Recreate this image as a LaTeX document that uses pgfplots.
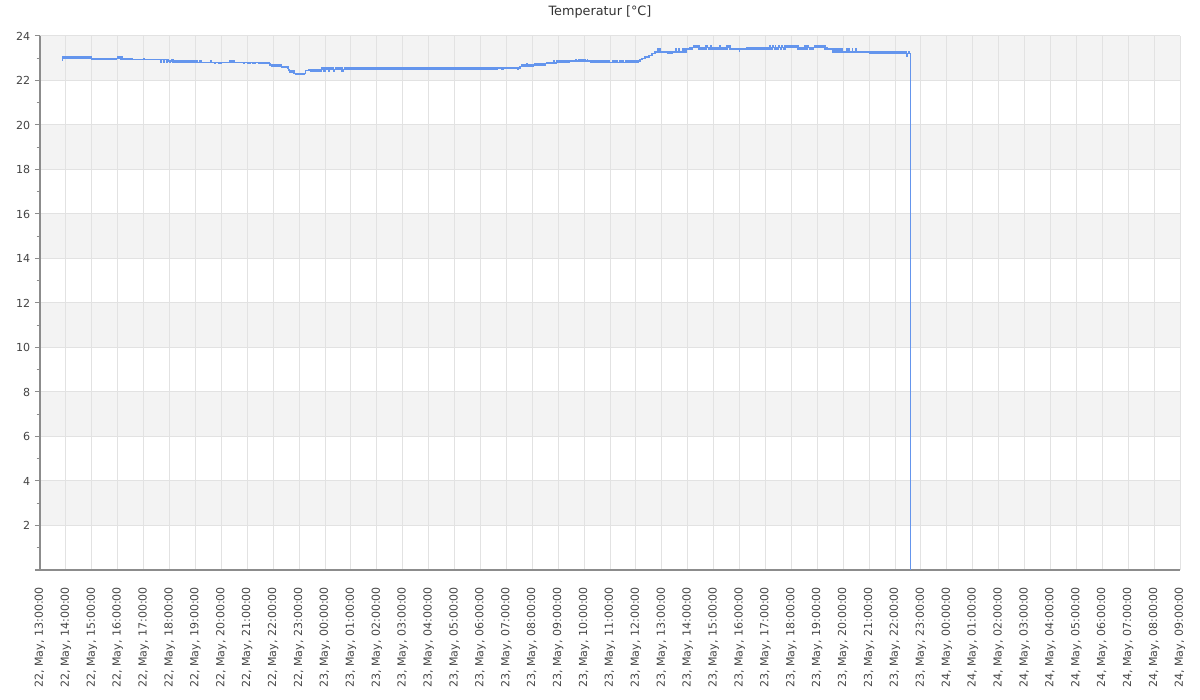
\documentclass[border=0pt]{standalone}
\usepackage{fontspec}
\setmainfont{DejaVu Sans}
\usepackage{pgfplots}
\pgfplotsset{compat=1.18}
\definecolor{tempblue}{HTML}{6495ED}
\definecolor{bandgray}{HTML}{F3F3F3}
\definecolor{gridgray}{HTML}{E2E2E2}
\definecolor{axisgray}{HTML}{8C8C8C}
\definecolor{labelgray}{HTML}{444444}
\definecolor{titlegray}{HTML}{333333}

\begin{document}
\begin{tikzpicture}
\begin{axis}[
    set layers,
    at={(0,0)}, anchor=south west,
    scale only axis, width=855pt, height=400.5pt,
    xmin=13, xmax=57, ymin=0, ymax=24,
    axis x line*=bottom, axis y line*=left,
    axis line style={-, draw=axisgray, line width=0.75pt},
    xmajorgrids, ymajorgrids,
    major grid style={draw=gridgray, line width=0.75pt},
    xtick={13,...,57},
    xtick style={draw=none},
    xticklabels={
        {22, May, 13:00:00},{22, May, 14:00:00},{22, May, 15:00:00},{22, May, 16:00:00},
        {22, May, 17:00:00},{22, May, 18:00:00},{22, May, 19:00:00},{22, May, 20:00:00},
        {22, May, 21:00:00},{22, May, 22:00:00},{22, May, 23:00:00},{23, May, 00:00:00},
        {23, May, 01:00:00},{23, May, 02:00:00},{23, May, 03:00:00},{23, May, 04:00:00},
        {23, May, 05:00:00},{23, May, 06:00:00},{23, May, 07:00:00},{23, May, 08:00:00},
        {23, May, 09:00:00},{23, May, 10:00:00},{23, May, 11:00:00},{23, May, 12:00:00},
        {23, May, 13:00:00},{23, May, 14:00:00},{23, May, 15:00:00},{23, May, 16:00:00},
        {23, May, 17:00:00},{23, May, 18:00:00},{23, May, 19:00:00},{23, May, 20:00:00},
        {23, May, 21:00:00},{23, May, 22:00:00},{23, May, 23:00:00},{24, May, 00:00:00},
        {24, May, 01:00:00},{24, May, 02:00:00},{24, May, 03:00:00},{24, May, 04:00:00},
        {24, May, 05:00:00},{24, May, 06:00:00},{24, May, 07:00:00},{24, May, 08:00:00},
        {24, May, 09:00:00}},
    x tick label style={rotate=90, anchor=east},
    xticklabel shift=5.5pt,
    ytick={0,2,...,24},
    yticklabels={{},2,4,6,8,10,12,14,16,18,20,22,24},
    minor ytick={1,3,...,23},
    ytick style={draw=axisgray, line width=0.75pt},
    tick align=outside,
    major tick length=3.75pt,
    minor tick length=2.5pt,
    tick label style={font=\fontsize{8.3}{10}\selectfont, text=labelgray},
    /pgf/number format/assume math mode=true,
    title={Temperatur [°C]},
    title style={font=\fontsize{9.6}{11}\selectfont, text=titlegray,
        at={(0.5,1)}, anchor=base, yshift=9.5pt, xshift=-7.5pt},
]
% alternating background bands
\addplot[fill=bandgray, draw=none, on layer=axis background] coordinates {(13,22)(57,22)(57,24)(13,24)};
\addplot[fill=bandgray, draw=none, on layer=axis background] coordinates {(13,18)(57,18)(57,20)(13,20)};
\addplot[fill=bandgray, draw=none, on layer=axis background] coordinates {(13,14)(57,14)(57,16)(13,16)};
\addplot[fill=bandgray, draw=none, on layer=axis background] coordinates {(13,10)(57,10)(57,12)(13,12)};
\addplot[fill=bandgray, draw=none, on layer=axis background] coordinates {(13,6)(57,6)(57,8)(13,8)};
\addplot[fill=bandgray, draw=none, on layer=axis background] coordinates {(13,2)(57,2)(57,4)(13,4)};

\addplot[const plot, draw=tempblue, line width=1pt, mark=none] coordinates {
(13.84,23.0)(13.86,22.92)(13.88,23.06)
(13.90,23.0)(13.95,23.06)(14.00,23.0)(14.05,23.06)(14.10,23.0)(14.15,23.06)(14.20,23.0)(14.25,23.06)
(14.30,23.0)(14.35,23.06)(14.40,23.0)(14.45,23.06)(14.50,23.0)(14.55,23.06)(14.60,23.0)(14.65,23.06)
(14.70,23.0)(14.75,23.06)(14.80,23.0)(14.85,23.06)(14.90,23.0)(14.95,23.06)
(15.00,22.94)(15.05,23.0)(15.10,22.94)(15.15,23.0)(15.20,22.94)(15.25,23.0)(15.30,22.94)(15.35,23.0)
(15.40,22.94)(15.45,23.0)(15.50,22.94)(15.55,23.0)(15.60,22.94)(15.65,23.0)(15.70,22.94)(15.75,23.0)
(15.80,22.94)(15.85,23.0)(15.90,22.94)(15.95,23.0)
(16.00,23.06)(16.05,23.0)(16.10,23.06)(16.13,22.94)(16.15,23.06)(16.19,22.94)
(16.22,23.0)(16.27,22.94)(16.32,23.0)(16.37,22.94)(16.42,23.0)(16.47,22.94)(16.51,23.0)
(16.55,22.94)(17.00,23.0)(17.02,22.94)
(17.67,22.81)(17.69,22.94)(17.78,22.81)(17.80,22.94)(17.88,22.81)(17.90,22.94)(17.95,22.88)(17.99,22.81)
(18.03,22.88)(18.07,22.94)(18.13,22.81)(18.17,22.88)(18.21,22.81)
(18.25,22.88)(18.30,22.81)(18.35,22.88)(18.40,22.81)(18.45,22.88)(18.50,22.81)(18.55,22.88)(18.60,22.81)
(18.65,22.88)(18.70,22.81)(18.75,22.88)(18.80,22.81)(18.85,22.88)(18.90,22.81)(18.95,22.88)(19.00,22.81)
(19.05,22.88)
(19.09,22.81)(19.18,22.88)(19.24,22.81)(19.60,22.88)(19.62,22.81)(19.75,22.75)(19.77,22.81)(19.91,22.75)
(19.93,22.81)(19.95,22.75)(19.99,22.81)
(20.33,22.88)(20.36,22.81)(20.39,22.88)(20.41,22.81)(20.49,22.88)(20.51,22.81)(20.87,22.75)(20.89,22.81)
(21.03,22.75)(21.05,22.81)(21.08,22.75)(21.10,22.81)(21.22,22.75)(21.24,22.81)(21.28,22.75)(21.30,22.81)
(21.45,22.75)(21.50,22.81)(21.55,22.75)(21.60,22.81)(21.65,22.75)(21.70,22.81)(21.75,22.75)(21.80,22.81)
(21.85,22.75)
(21.88,22.69)(21.93,22.62)(21.98,22.69)(22.03,22.62)(22.08,22.69)(22.13,22.62)(22.18,22.69)(22.23,22.62)
(22.28,22.69)
(22.33,22.6)(22.54,22.56)(22.57,22.6)(22.59,22.5)
(22.61,22.44)(22.65,22.38)(22.69,22.44)(22.73,22.38)(22.77,22.44)
(22.80,22.31)(22.85,22.28)(22.90,22.31)(22.95,22.28)(23.00,22.31)(23.05,22.28)(23.10,22.31)(23.15,22.28)
(23.20,22.31)
(23.25,22.44)
(23.38,22.5)(23.43,22.41)(23.48,22.5)(23.53,22.41)(23.58,22.5)(23.63,22.41)(23.68,22.5)(23.73,22.41)
(23.78,22.5)(23.83,22.41)
(23.87,22.56)(23.92,22.5)(23.96,22.41)(24.00,22.56)(24.05,22.5)(24.10,22.56)(24.14,22.41)(24.18,22.56)
(24.23,22.5)(24.28,22.56)(24.33,22.41)(24.37,22.5)(24.42,22.56)(24.47,22.5)(24.52,22.56)(24.57,22.5)
(24.62,22.56)(24.66,22.41)
(24.70,22.5)(24.75,22.56)(24.80,22.5)(24.85,22.56)(24.90,22.5)(24.95,22.56)
(25.00,22.5)(25.05,22.56)(25.10,22.5)(25.15,22.56)(25.20,22.5)(25.25,22.56)(25.30,22.5)(25.35,22.56)
(25.40,22.5)(25.45,22.56)(25.50,22.5)(25.55,22.56)(25.60,22.5)(25.65,22.56)(25.70,22.5)(25.75,22.56)
(25.80,22.5)(25.85,22.56)(25.90,22.5)(25.95,22.56)
(26.00,22.5)(26.05,22.56)(26.10,22.5)(26.15,22.56)(26.20,22.5)(26.25,22.56)(26.30,22.5)(26.35,22.56)
(26.40,22.5)(26.45,22.56)(26.50,22.5)(26.55,22.56)(26.60,22.5)(26.65,22.56)(26.70,22.5)(26.75,22.56)
(26.80,22.5)(26.85,22.56)(26.90,22.5)(26.95,22.56)
(27.00,22.5)(27.05,22.56)(27.10,22.5)(27.15,22.56)(27.20,22.5)(27.25,22.56)(27.30,22.5)(27.35,22.56)
(27.40,22.5)(27.45,22.56)(27.50,22.5)(27.55,22.56)(27.60,22.5)(27.65,22.56)(27.70,22.5)(27.75,22.56)
(27.80,22.5)(27.85,22.56)(27.90,22.5)(27.95,22.56)
(28.00,22.5)(28.05,22.56)(28.10,22.5)(28.15,22.56)(28.20,22.5)(28.25,22.56)(28.30,22.5)(28.35,22.56)
(28.40,22.5)(28.45,22.56)(28.50,22.5)(28.55,22.56)(28.60,22.5)(28.65,22.56)(28.70,22.5)(28.75,22.56)
(28.80,22.5)(28.85,22.56)(28.90,22.5)(28.95,22.56)
(29.00,22.5)(29.05,22.56)(29.10,22.5)(29.15,22.56)(29.20,22.5)(29.25,22.56)(29.30,22.5)(29.35,22.56)
(29.40,22.5)(29.45,22.56)(29.50,22.5)(29.55,22.56)(29.60,22.5)(29.65,22.56)(29.70,22.5)(29.75,22.56)
(29.80,22.5)(29.85,22.56)(29.90,22.5)(29.95,22.56)
(30.00,22.5)(30.05,22.56)(30.10,22.5)(30.15,22.56)(30.20,22.5)(30.25,22.56)(30.30,22.5)(30.35,22.56)
(30.40,22.5)(30.45,22.56)(30.50,22.5)(30.55,22.56)(30.60,22.5)(30.65,22.56)
(30.80,22.5)(30.84,22.56)(30.87,22.5)(30.90,22.56)(31.43,22.5)(31.45,22.56)
(31.53,22.62)(31.58,22.69)(31.63,22.62)(31.68,22.69)(31.73,22.62)(31.78,22.75)(31.81,22.62)(31.86,22.69)
(31.91,22.62)(31.96,22.69)(32.01,22.62)(32.06,22.69)
(32.10,22.75)(32.15,22.69)(32.20,22.75)(32.25,22.69)(32.30,22.75)(32.35,22.69)(32.40,22.75)(32.45,22.69)
(32.50,22.75)
(32.56,22.79)(32.82,22.9)(32.86,22.79)
(32.94,22.88)(32.99,22.81)(33.04,22.88)(33.09,22.81)(33.14,22.88)(33.19,22.81)(33.24,22.88)(33.29,22.81)
(33.34,22.88)(33.39,22.81)(33.44,22.88)
(33.68,22.94)(33.70,22.88)(33.80,22.94)(33.84,22.88)(33.88,22.94)(33.92,22.88)(33.96,22.94)(34.00,22.88)
(34.04,22.94)(34.06,22.88)(34.12,22.94)(34.14,22.88)
(34.25,22.81)(34.30,22.88)(34.35,22.81)(34.40,22.88)(34.45,22.81)(34.50,22.88)(34.55,22.81)(34.60,22.88)
(34.65,22.81)(34.70,22.88)(34.73,22.81)(34.81,22.88)(34.86,22.81)(34.91,22.88)(34.96,22.81)
(35.12,22.88)(35.17,22.81)(35.22,22.88)(35.27,22.81)(35.39,22.88)(35.44,22.81)(35.49,22.88)(35.53,22.81)
(35.60,22.88)(35.65,22.81)(35.70,22.88)(35.75,22.81)(35.80,22.88)(35.85,22.81)(35.90,22.88)(35.95,22.81)
(36.00,22.88)(36.05,22.81)(36.10,22.88)
(36.16,22.94)(36.23,23.0)(36.35,23.06)(36.51,23.12)(36.62,23.22)(36.74,23.28)(36.85,23.42)(36.87,23.28)
(36.91,23.42)(36.93,23.28)
(37.23,23.2)(37.28,23.28)(37.32,23.2)(37.36,23.28)(37.39,23.2)
(37.42,23.28)(37.55,23.42)(37.57,23.28)(37.64,23.42)(37.66,23.28)
(37.80,23.42)(37.84,23.28)(37.88,23.42)(37.90,23.28)(37.93,23.41)
(38.09,23.48)(38.14,23.41)(38.19,23.48)(38.24,23.55)(38.28,23.48)(38.32,23.55)(38.36,23.48)(38.40,23.55)
(38.44,23.41)(38.49,23.48)(38.54,23.41)(38.59,23.48)(38.64,23.41)(38.70,23.55)(38.74,23.48)(38.79,23.41)
(38.84,23.48)(38.88,23.55)(38.90,23.41)(38.95,23.48)(39.00,23.41)(39.05,23.48)(39.10,23.41)(39.15,23.48)
(39.20,23.41)(39.22,23.55)(39.24,23.48)(39.29,23.41)(39.34,23.48)(39.39,23.41)(39.44,23.48)(39.49,23.41)
(39.51,23.55)(39.55,23.48)(39.59,23.55)
(39.63,23.41)(39.99,23.3)(40.01,23.41)
(40.27,23.48)(40.32,23.41)(40.37,23.48)(40.42,23.41)(40.47,23.48)(40.52,23.41)(40.57,23.48)(40.62,23.41)
(40.67,23.48)(40.72,23.41)(40.77,23.48)(40.82,23.41)(40.87,23.48)(40.92,23.41)(40.97,23.48)(41.02,23.41)
(41.07,23.48)(41.12,23.41)(41.17,23.55)(41.19,23.48)(41.24,23.41)(41.27,23.55)(41.29,23.48)(41.34,23.41)
(41.38,23.55)(41.40,23.48)(41.45,23.41)(41.50,23.55)(41.53,23.48)(41.58,23.41)(41.62,23.55)(41.66,23.48)
(41.71,23.41)(41.76,23.55)(41.79,23.48)
(41.82,23.55)(41.87,23.48)(41.92,23.55)(41.97,23.48)(42.02,23.55)(42.07,23.48)(42.12,23.55)(42.17,23.48)
(42.22,23.55)
(42.26,23.41)(42.31,23.48)(42.36,23.41)(42.41,23.48)(42.46,23.41)(42.50,23.48)
(42.53,23.55)(42.57,23.41)(42.61,23.55)(42.65,23.48)(42.69,23.41)
(42.73,23.48)(42.78,23.41)(42.83,23.48)
(42.88,23.55)(42.93,23.48)(42.98,23.55)(43.03,23.48)(43.08,23.55)(43.13,23.48)(43.18,23.55)(43.23,23.48)
(43.27,23.55)
(43.30,23.41)(43.35,23.48)(43.40,23.41)
(43.59,23.28)(43.64,23.41)(43.69,23.28)(43.74,23.41)(43.79,23.28)(43.84,23.41)
(43.88,23.28)(43.93,23.41)(43.95,23.28)(44.15,23.41)(44.17,23.28)(44.23,23.41)(44.25,23.28)(44.35,23.41)
(44.37,23.28)(44.50,23.41)(44.52,23.28)
(45.01,23.2)(45.06,23.28)(45.11,23.2)(45.16,23.28)(45.21,23.2)(45.26,23.28)(45.31,23.2)(45.36,23.28)
(45.41,23.2)(45.46,23.28)(45.51,23.2)(45.56,23.28)(45.61,23.2)(45.66,23.28)(45.71,23.2)(45.76,23.28)
(45.81,23.2)(45.86,23.28)(45.91,23.2)(45.96,23.28)
(46.00,23.2)(46.04,23.28)(46.08,23.2)(46.10,23.28)(46.13,23.2)(46.16,23.28)
(46.19,23.2)(46.24,23.28)(46.29,23.2)(46.34,23.28)(46.39,23.2)(46.43,23.28)
(46.45,23.1)(46.48,23.2)(46.52,23.28)(46.54,23.2)(46.59,0)
};
\end{axis}
\path (-30pt,-97.5pt) rectangle (870pt,427.5pt);
\end{tikzpicture}
\end{document}
